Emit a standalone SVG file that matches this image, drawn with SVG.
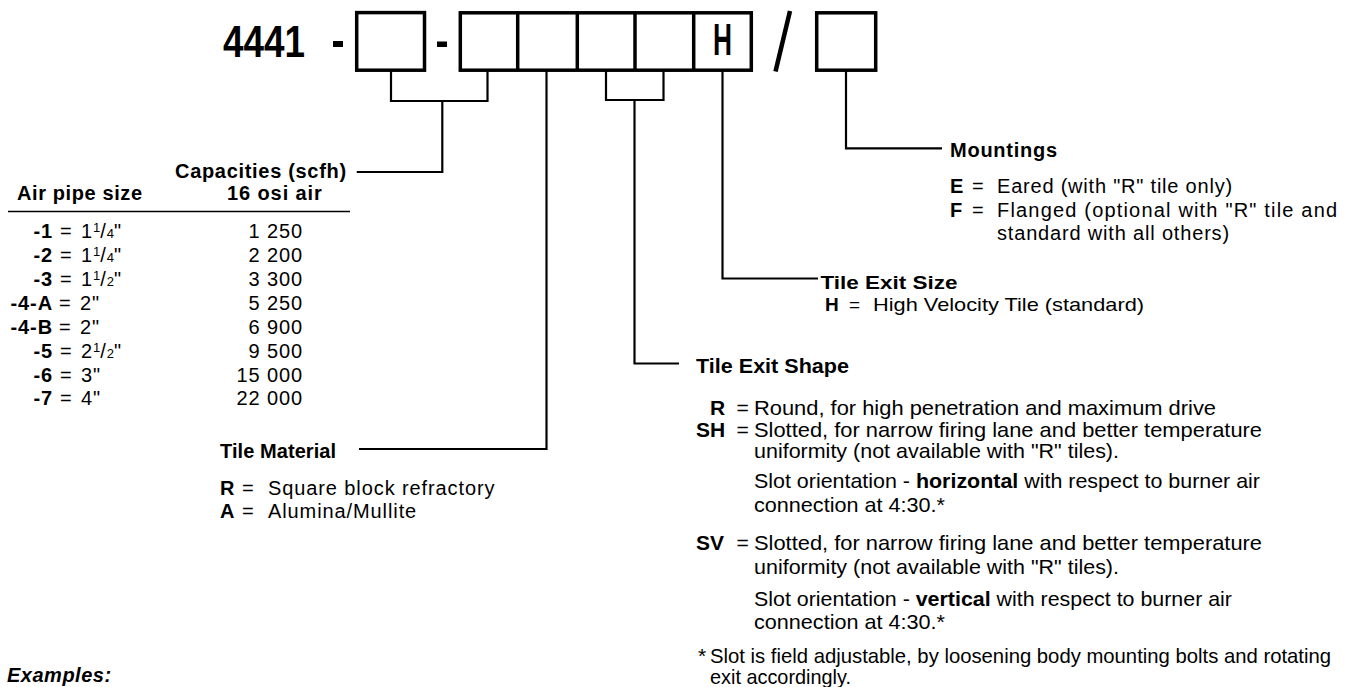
<svg xmlns="http://www.w3.org/2000/svg" width="1351" height="687" viewBox="0 0 1351 687">
<style>
.t{font-family:"Liberation Sans",Arial,Helvetica,sans-serif;font-size:20px;letter-spacing:0.9px;fill:#000}
.n{font-family:"Liberation Sans",Arial,Helvetica,sans-serif;font-size:21px;letter-spacing:0;fill:#000}
.s{font-size:19px}
.b{font-weight:bold}
.big{font-family:"Liberation Sans",Arial,sans-serif;font-weight:bold;font-size:44px;fill:#000}
.box{fill:none;stroke:#000;stroke-width:3.5}
.conn{fill:none;stroke:#000;stroke-width:2.2}
.sup{font-size:13px;letter-spacing:0}
</style>
<rect width="1351" height="687" fill="#fff"/>

<g id="code">
  <text class="big" x="223" y="57" textLength="82" lengthAdjust="spacingAndGlyphs">4441</text>
  <rect x="333" y="41" width="10" height="6" fill="#000"/>
  <rect class="box" x="356.7" y="12.6" width="67.8" height="57.6"/>
  <rect x="437" y="41.5" width="10" height="5.5" fill="#000"/>
  <rect class="box" x="460.3" y="12.8" width="291" height="57.4"/>
  <line class="box" x1="517.7" y1="12.8" x2="517.7" y2="70.2"/>
  <line class="box" x1="577.3" y1="12.8" x2="577.3" y2="70.2"/>
  <line class="box" x1="635" y1="12.8" x2="635" y2="70.2"/>
  <line class="box" x1="693.7" y1="12.8" x2="693.7" y2="70.2"/>
  <text class="big" x="722.5" y="55" text-anchor="middle" textLength="19" lengthAdjust="spacingAndGlyphs">H</text>
  <line x1="790" y1="11" x2="775.5" y2="71.5" stroke="#000" stroke-width="4.5"/>
  <rect class="box" x="816.7" y="12.8" width="59" height="57.4"/>
</g>

<g id="connectors">
  <path class="conn" d="M391,71 V101 H487.5 V71 M442.3,101 V172 H356.7"/>
  <path class="conn" d="M546.5,71 V449 H359"/>
  <path class="conn" d="M606,71 V100 H663.5 V71 M634.5,100 V363.5 H679"/>
  <path class="conn" d="M722.5,71 V278.5 H818"/>
  <path class="conn" d="M846,71 V148.3 H942"/>
</g>

<g id="capacities">
  <text class="t b" x="175" y="178" textLength="172">Capacities (scfh)</text>
  <text class="t b" x="17" y="200" textLength="126">Air pipe size</text>
  <text class="t b" x="227" y="200">16 osi air</text>
  <line x1="8" y1="211.5" x2="350" y2="211.5" stroke="#000" stroke-width="1.5"/>
  <g>
    <text x="53" y="238.3" text-anchor="end" class="t b">-1</text>
    <text x="60" y="238.3" class="t">=</text>
    <text x="81" y="238.3" class="t">1<tspan class="sup" dy="-6">1</tspan><tspan dy="6">/</tspan><tspan class="sup">4</tspan>"</text>
    <text x="303" y="238.3" text-anchor="end" class="t">1 250</text>

    <text x="53" y="262.3" text-anchor="end" class="t b">-2</text>
    <text x="60" y="262.3" class="t">=</text>
    <text x="81" y="262.3" class="t">1<tspan class="sup" dy="-6">1</tspan><tspan dy="6">/</tspan><tspan class="sup">4</tspan>"</text>
    <text x="303" y="262.3" text-anchor="end" class="t">2 200</text>

    <text x="53" y="286" text-anchor="end" class="t b">-3</text>
    <text x="60" y="286" class="t">=</text>
    <text x="81" y="286" class="t">1<tspan class="sup" dy="-6">1</tspan><tspan dy="6">/</tspan><tspan class="sup">2</tspan>"</text>
    <text x="303" y="286" text-anchor="end" class="t">3 300</text>

    <text x="53" y="310" text-anchor="end" class="t b">-4-A</text>
    <text x="59" y="310" class="t">=</text>
    <text x="80" y="310" class="t">2"</text>
    <text x="303" y="310" text-anchor="end" class="t">5 250</text>

    <text x="53" y="334" text-anchor="end" class="t b">-4-B</text>
    <text x="59" y="334" class="t">=</text>
    <text x="80" y="334" class="t">2"</text>
    <text x="303" y="334" text-anchor="end" class="t">6 900</text>

    <text x="53" y="357.7" text-anchor="end" class="t b">-5</text>
    <text x="60" y="357.7" class="t">=</text>
    <text x="81" y="357.7" class="t">2<tspan class="sup" dy="-6">1</tspan><tspan dy="6">/</tspan><tspan class="sup">2</tspan>"</text>
    <text x="303" y="357.7" text-anchor="end" class="t">9 500</text>

    <text x="53" y="381.7" text-anchor="end" class="t b">-6</text>
    <text x="60" y="381.7" class="t">=</text>
    <text x="81" y="381.7" class="t">3"</text>
    <text x="303" y="381.7" text-anchor="end" class="t">15 000</text>

    <text x="53" y="405" text-anchor="end" class="t b">-7</text>
    <text x="60" y="405" class="t">=</text>
    <text x="81" y="405" class="t">4"</text>
    <text x="303" y="405" text-anchor="end" class="t">22 000</text>
  </g>
</g>

<g id="tile-material">
  <text class="t b" x="220" y="458" textLength="117">Tile Material</text>
  <text class="t b" x="220" y="495">R</text>
  <text class="t" x="242" y="495">=</text>
  <text class="t" x="268" y="495">Square block refractory</text>
  <text class="t b" x="220" y="518.3">A</text>
  <text class="t" x="242" y="518.3">=</text>
  <text class="t" x="268" y="518.3">Alumina/Mullite</text>
</g>

<g id="mountings">
  <text class="t b" x="950" y="157" textLength="108">Mountings</text>
  <text class="t b" x="950" y="193">E</text>
  <text class="t" x="972" y="193">=</text>
  <text class="t" x="997" y="193" textLength="236">Eared (with "R" tile only)</text>
  <text class="t b" x="950" y="216.5">F</text>
  <text class="t" x="972" y="216.5">=</text>
  <text class="t" x="997" y="216.5" textLength="341" lengthAdjust="spacing">Flanged (optional with "R" tile and</text>
  <text class="t" x="997" y="239.5" textLength="233">standard with all others)</text>
</g>

<g id="tile-exit-size">
  <text class="n s b" x="820.5" y="289" textLength="137" lengthAdjust="spacingAndGlyphs">Tile Exit Size</text>
  <text class="n s b" x="825" y="311">H</text>
  <text class="n s" x="849" y="311">=</text>
  <text class="n s" x="873" y="311" textLength="271" lengthAdjust="spacingAndGlyphs">High Velocity Tile (standard)</text>
</g>

<g id="tile-exit-shape">
  <text class="n b" x="696" y="373" textLength="153" lengthAdjust="spacingAndGlyphs">Tile Exit Shape</text>
  <text class="n b" x="710" y="415">R</text>
  <text class="n" x="736.5" y="415">=</text>
  <text class="n" x="754" y="415" textLength="462" lengthAdjust="spacingAndGlyphs">Round, for high penetration and maximum drive</text>
  <text class="n b" x="696" y="436.7">SH</text>
  <text class="n" x="736.5" y="436.7">=</text>
  <text class="n" x="754" y="436.7" textLength="508" lengthAdjust="spacingAndGlyphs">Slotted, for narrow firing lane and better temperature</text>
  <text class="n" x="754" y="458" textLength="365" lengthAdjust="spacingAndGlyphs">uniformity (not available with "R" tiles).</text>
  <text class="n" x="754" y="488" textLength="506" lengthAdjust="spacingAndGlyphs">Slot orientation - <tspan class="b">horizontal</tspan> with respect to burner air</text>
  <text class="n" x="754" y="511.7" textLength="191" lengthAdjust="spacingAndGlyphs">connection at 4:30.*</text>
  <text class="n b" x="696" y="550">SV</text>
  <text class="n" x="736.5" y="550">=</text>
  <text class="n" x="754" y="550" textLength="508" lengthAdjust="spacingAndGlyphs">Slotted, for narrow firing lane and better temperature</text>
  <text class="n" x="754" y="574" textLength="365" lengthAdjust="spacingAndGlyphs">uniformity (not available with "R" tiles).</text>
  <text class="n" x="754" y="606" textLength="478" lengthAdjust="spacingAndGlyphs">Slot orientation - <tspan class="b">vertical</tspan> with respect to burner air</text>
  <text class="n" x="754" y="629" textLength="191" lengthAdjust="spacingAndGlyphs">connection at 4:30.*</text>
  <text class="n" x="698" y="663">*</text>
  <text class="n" x="710" y="663" textLength="621" lengthAdjust="spacingAndGlyphs">Slot is field adjustable, by loosening body mounting bolts and rotating</text>
  <text class="n" x="710" y="684" textLength="141" lengthAdjust="spacingAndGlyphs">exit accordingly.</text>
</g>

<g id="examples">
  <text class="t b" x="7" y="682" font-style="italic" textLength="105">Examples:</text>
</g>
</svg>
